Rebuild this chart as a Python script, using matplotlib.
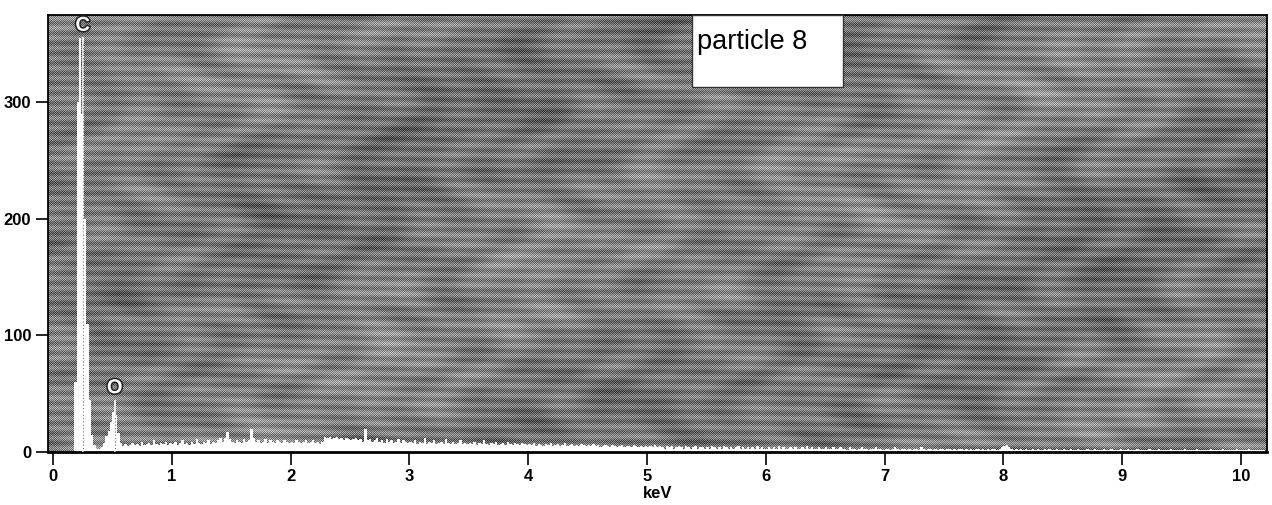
import numpy as np
import matplotlib
matplotlib.use("Agg")
import matplotlib.pyplot as plt
import matplotlib.patheffects as pe

# EDS spectrum, 0.02 keV channels, counts per channel (rows of 0.5 keV)
channel_width = 0.02
counts_rows = [
    [0, 0, 0, 0, 0, 0, 0, 0, 0, 60, 300, 355, 290, 200, 110, 45, 15, 6, 3, 3, 4, 8, 14, 18, 26],
    [34, 32, 16, 8, 5, 7, 5, 6, 8, 6, 7, 5, 9, 6, 7, 8, 6, 10, 7, 6, 8, 7, 9, 6, 8],
    [7, 9, 6, 8, 10, 7, 8, 6, 9, 7, 11, 8, 7, 9, 8, 10, 7, 9, 8, 10, 12, 9, 12, 17, 11],
    [9, 8, 10, 9, 8, 11, 9, 10, 20, 12, 9, 10, 8, 9, 11, 8, 10, 9, 8, 10, 9, 8, 10, 9, 8],
    [9, 8, 10, 9, 8, 9, 10, 8, 9, 10, 8, 9, 7, 9, 13, 12, 13, 11, 12, 13, 11, 12, 10, 12, 11],
    [10, 11, 12, 10, 11, 9, 20, 10, 11, 9, 10, 12, 9, 10, 8, 11, 9, 10, 8, 9, 11, 8, 10, 9, 8],
    [9, 8, 10, 7, 9, 8, 12, 7, 9, 8, 10, 7, 8, 9, 7, 11, 8, 7, 9, 7, 8, 10, 7, 8, 7],
    [8, 7, 9, 6, 8, 7, 10, 7, 6, 8, 7, 9, 6, 7, 8, 6, 9, 7, 6, 8, 7, 6, 8, 7, 6],
    [7, 6, 8, 5, 7, 6, 5, 7, 6, 8, 5, 6, 7, 5, 6, 8, 5, 6, 7, 5, 6, 5, 7, 6, 5],
    [6, 5, 7, 5, 6, 4, 5, 6, 5, 4, 6, 5, 4, 5, 6, 4, 5, 5, 4, 6, 5, 4, 5, 4, 5],
    [4, 5, 4, 6, 4, 5, 4, 3, 5, 4, 5, 3, 4, 5, 4, 3, 5, 4, 3, 4, 5, 3, 4, 4, 3],
    [4, 3, 5, 4, 3, 4, 3, 5, 4, 3, 4, 3, 4, 5, 3, 4, 3, 4, 3, 4, 3, 5, 3, 4, 3],
    [3, 4, 3, 4, 3, 5, 3, 4, 3, 3, 4, 3, 4, 3, 3, 4, 3, 5, 3, 4, 3, 3, 4, 3, 3],
    [4, 3, 3, 4, 3, 3, 4, 3, 3, 2, 4, 3, 3, 2, 3, 4, 3, 3, 2, 3, 3, 4, 3, 3, 2],
    [3, 3, 2, 3, 4, 3, 2, 3, 3, 2, 3, 2, 3, 3, 2, 4, 3, 2, 3, 3, 2, 3, 2, 3, 3],
    [2, 3, 3, 2, 3, 2, 3, 3, 2, 3, 2, 3, 2, 3, 3, 2, 3, 2, 3, 2, 3, 3, 2, 3, 4],
    [5, 6, 4, 3, 2, 3, 2, 3, 2, 3, 2, 2, 3, 2, 3, 2, 2, 3, 2, 3, 2, 2, 3, 2, 2],
    [3, 2, 2, 3, 2, 2, 3, 2, 2, 2, 3, 2, 2, 3, 2, 2, 2, 3, 2, 2, 3, 2, 2, 2, 3],
    [2, 2, 3, 2, 2, 2, 3, 2, 2, 2, 2, 3, 2, 2, 2, 3, 2, 2, 2, 2, 3, 2, 2, 2, 2],
    [2, 3, 2, 2, 2, 2, 3, 2, 2, 2, 2, 2, 3, 2, 2, 2, 2, 3, 2, 2, 2, 2, 2, 3, 2],
    [2, 2, 2, 3, 2, 2, 2, 2, 2, 2],
]

# Element markers: symbol, energy (keV), peak height, label height
marker_symbols = ["C", "O"]
marker_energies = [0.25, 0.52]
marker_peaks = [350, 32]
marker_label_y = [358, 47]

x_ticks = [0, 1, 2, 3, 4, 5, 6, 7, 8, 9, 10]
y_ticks = [0, 100, 200, 300]
annotation = "particle 8"

counts = np.concatenate([np.asarray(r, dtype=float) for r in counts_rows])
edges = np.arange(len(counts) + 1) * channel_width

W, H = 1272, 505
fig = plt.figure(figsize=(W / 100, H / 100), dpi=100)
fig.patch.set_facecolor("white")
left, right, top, bottom = 48, 1267, 15, 452
ax = fig.add_axes([left / W, (H - bottom) / H, (right - left) / W, (bottom - top) / H])

xmin, xmax = -0.042, 10.22
ymin, ymax = 0, 375
ax.set_xlim(xmin, xmax)
ax.set_ylim(ymin, ymax)

# Dithered gray plotting background with horizontal banding and soft mottling
pw, ph = right - left, bottom - top
yy, xx = np.mgrid[0:ph, 0:pw].astype(float)
bands = 0.08 * np.sin(2 * np.pi * (yy - 0.015 * xx) / 10.0 + 0.6 * np.sin(xx / 90.0))
checker = 0.16 * (((xx + yy) % 2) * 2 - 1)
mottle = (0.05 * np.sin(xx / 37.0 + 2.0 * np.sin(yy / 23.0)) * np.cos(yy / 17.0 - xx / 91.0)
          + 0.04 * np.sin(xx / 13.0 + 3.0 * np.sin(yy / 19.0)) * np.sin(xx / 47.0 + yy / 31.0)
          + 0.03 * np.sin(xx / 150.0 + yy / 60.0))
tex = np.clip(0.48 + bands + checker + mottle, 0, 1)
ax.imshow(tex, cmap="gray", vmin=0, vmax=1, extent=[xmin, xmax, ymin, ymax],
          aspect="auto", interpolation="nearest", zorder=0)

# Spectrum drawn as filled white histogram
ax.stairs(counts, edges, fill=True, color="white", zorder=2, baseline=0)

# Element marker lines and labels
font = ["Liberation Sans", "DejaVu Sans"]
for sym, e, pk, ly in zip(marker_symbols, marker_energies, marker_peaks, marker_label_y):
    ax.vlines(e, 0, ly - 2, color="white", lw=1.2, zorder=3)
    ax.vlines(e, 0, pk, color="#777777", lw=0.8, linestyles=(0, (1, 2)), zorder=4)
    ax.text(e, ly, sym, ha="center", va="bottom", fontsize=14.5, fontweight="bold",
            color="white", family=font, zorder=5,
            path_effects=[pe.withStroke(linewidth=2.2, foreground="#222222")])

# Sample label box
ax.add_patch(plt.Rectangle((5.38, 313), 1.27, 62, facecolor="white", edgecolor="#333333",
                           lw=1.0, zorder=5.5))
ax.text(5.42, 363, annotation, ha="left", va="top", fontsize=19.5,
        family=font, color="black", zorder=6)

for s in ax.spines.values():
    s.set_color("black")
    s.set_linewidth(1.3)
ax.spines["bottom"].set_linewidth(2.0)

ax.set_xticks(x_ticks)
ax.set_yticks(y_ticks)
ax.set_xticklabels([str(t) for t in x_ticks])
ax.set_yticklabels([str(t) for t in y_ticks])
ax.tick_params(axis="both", direction="out", length=9, width=1.2, colors="black",
               labelsize=12, pad=3)
for lab in ax.get_xticklabels() + ax.get_yticklabels():
    lab.set_fontweight("bold")
    lab.set_family(font)

ax.set_xlabel("keV", fontsize=12, fontweight="bold", family=font, labelpad=2)

fig.savefig("out.png", dpi=100)
